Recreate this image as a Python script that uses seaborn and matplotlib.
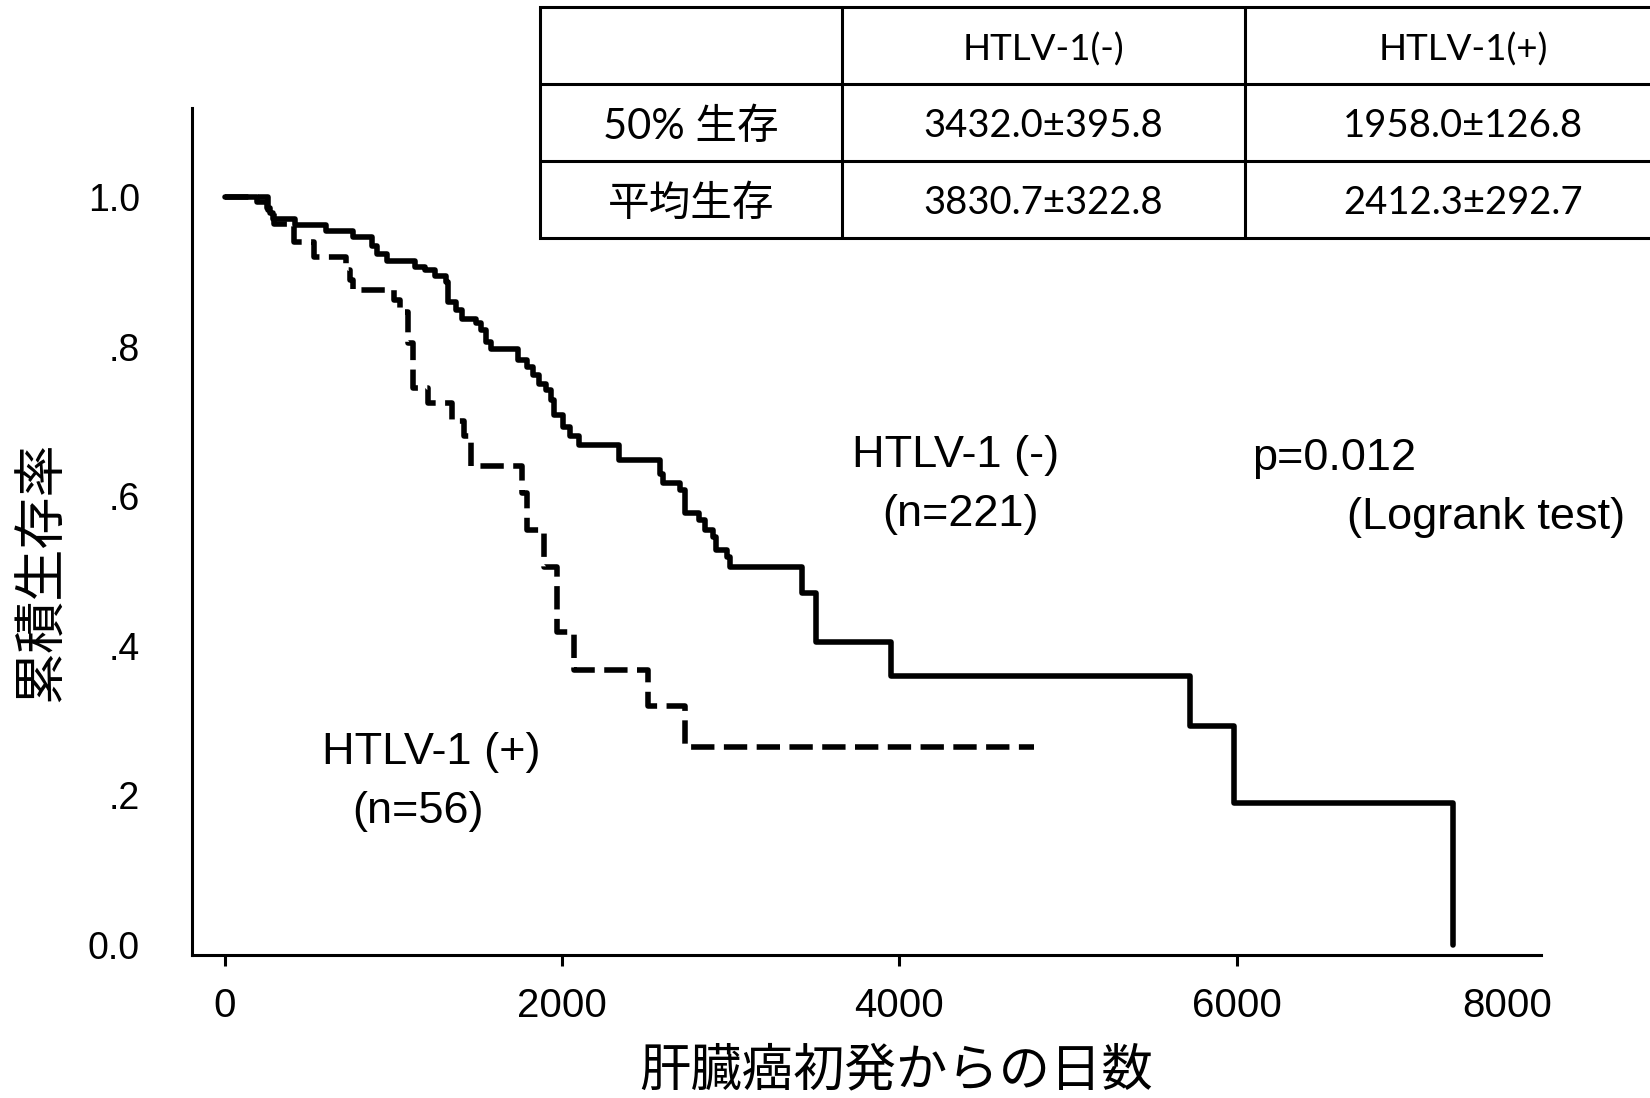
import numpy as np
import pandas as pd
import matplotlib
matplotlib.use("Agg")
import matplotlib.pyplot as plt
from matplotlib.patches import Rectangle
import seaborn as sns

# ---------------- data ----------------
# HTLV-1(-) group, n=221: Kaplan-Meier step points
neg_days = [0, 190, 250, 269, 289, 420, 600, 760, 875, 905, 960, 1130, 1190, 1250,
            1310, 1325, 1370, 1410, 1490, 1520, 1550, 1580, 1740, 1790, 1830, 1865,
            1905, 1935, 1955, 2005, 2045, 2100, 2340, 2580, 2600, 2700, 2730, 2810,
            2850, 2895, 2915, 2975, 2995, 3420, 3505, 3950, 5720, 5985, 7280]
neg_surv = [1.0, 0.993, 0.985, 0.978, 0.970, 0.963, 0.954, 0.946, 0.935, 0.924, 0.914,
            0.907, 0.902, 0.895, 0.887, 0.860, 0.849, 0.837, 0.831, 0.822, 0.806, 0.797,
            0.782, 0.773, 0.762, 0.750, 0.742, 0.728, 0.708, 0.693, 0.680, 0.668, 0.648,
            0.630, 0.617, 0.608, 0.577, 0.568, 0.555, 0.546, 0.528, 0.519, 0.506, 0.470,
            0.405, 0.359, 0.293, 0.190, 0.0]

# HTLV-1(+) group, n=56
pos_days = [0, 260, 290, 410, 530, 720, 745, 760, 1005, 1040, 1090, 1118, 1205, 1350,
            1420, 1460, 1760, 1790, 1895, 1973, 2070, 2508, 2727, 4798]
pos_surv = [1.0, 0.982, 0.964, 0.940, 0.920, 0.902, 0.889, 0.876, 0.862, 0.846, 0.805,
            0.745, 0.724, 0.700, 0.680, 0.640, 0.604, 0.555, 0.506, 0.419, 0.368, 0.319,
            0.265, 0.265]

x_ticks = [0, 2000, 4000, 6000]
x_tick_labels = ["0", "2000", "4000", "6000"]
x_extra_label = "8000"
y_ticks = [0.0, 0.2, 0.4, 0.6, 0.8, 1.0]
y_tick_labels = ["0.0", ".2", ".4", ".6", ".8", "1.0"]

table_cols = ["", "HTLV-1(-)", "HTLV-1(+)"]
table_rows = ["50% 生存", "平均生存"]
table_neg = ["3432.0±395.8", "3830.7±322.8"]
table_pos = ["1958.0±126.8", "2412.3±292.7"]

# ---------------- style ----------------
sns.set_theme(style="white")
plt.rcParams["font.family"] = ["Liberation Sans", "Noto Sans CJK JP", "DejaVu Sans"]

W, H = 1650, 1098
fig = plt.figure(figsize=(W / 100, H / 100), dpi=100)
fig.patch.set_facecolor("white")
ax = fig.add_axes([191.5 / W, 143 / H, 1349.5 / W, 847 / H])
ax.set_facecolor("white")

df_neg = pd.DataFrame({"days": neg_days, "surv": neg_surv})
df_pos = pd.DataFrame({"days": pos_days, "surv": pos_surv})

sns.lineplot(data=df_neg, x="days", y="surv", ax=ax, color="black", linewidth=4,
             drawstyle="steps-post", estimator=None, sort=False, legend=False)
sns.lineplot(data=df_pos, x="days", y="surv", ax=ax, color="black", linewidth=4,
             drawstyle="steps-post", estimator=None, sort=False, legend=False,
             linestyle=(0, (4.2, 1.7)))

ax.set_xlim(-196, 7802)
ax.set_ylim(-0.0134, 1.119)

for s in ["top", "right"]:
    ax.spines[s].set_visible(False)
for s in ["left", "bottom"]:
    ax.spines[s].set_color("black")
    ax.spines[s].set_linewidth(2.2)

narrow = ["Liberation Sans Narrow", "Liberation Sans"]
ax.set_xticks(x_ticks)
ax.set_xticklabels(x_tick_labels)
ax.set_xticks([7600], labels=[x_extra_label], minor=True)
ax.tick_params(axis="x", which="major", direction="out", bottom=True, length=8,
               width=2.2, color="black", pad=15, labelsize=29, labelcolor="black")
ax.tick_params(axis="x", which="minor", bottom=True, length=0, pad=23,
               labelsize=29, labelcolor="black")
for lbl in ax.get_xticklabels(which="both"):
    lbl.set_family(narrow)

ax.set_yticks(y_ticks)
ax.set_yticklabels(y_tick_labels)
ax.tick_params(axis="y", left=False, length=0, pad=37, labelsize=27, labelcolor="black")
for lbl in ax.get_yticklabels():
    lbl.set_family(["Liberation Sans"])

ax.set_xlabel("肝臓癌初発からの日数", fontsize=37, family=["Noto Sans CJK JP"], color="black")
ax.xaxis.set_label_coords(0.522, -0.105)
ax.set_ylabel("累積生存率", fontsize=37.5, family=["Noto Sans CJK JP"], color="black")
ax.yaxis.set_label_coords(-0.091, 0.452)

afam = ["Liberation Sans"]
fs_ann = 32.5
ax.text(3718, 0.655, "HTLV-1 (-)", fontsize=fs_ann, family=afam, ha="left", va="center", color="black")
ax.text(3896, 0.576, "(n=221)", fontsize=fs_ann, family=afam, ha="left", va="center", color="black")
ax.text(6089, 0.650, "p=0.012", fontsize=fs_ann, family=afam, ha="left", va="center", color="black")
ax.text(6652, 0.571, "(Logrank test)", fontsize=fs_ann, family=afam, ha="left", va="center",
        color="black", clip_on=False)
ax.text(579, 0.257, "HTLV-1 (+)", fontsize=fs_ann, family=afam, ha="left", va="center", color="black")
ax.text(757, 0.179, "(n=56)", fontsize=fs_ann, family=afam, ha="left", va="center", color="black")

# ---------------- summary table ----------------
t_left, t_right, t_top, t_bot = 540, 1681, 7.4, 238
tax = fig.add_axes([t_left / W, (H - t_bot) / H, (t_right - t_left) / W, (t_bot - t_top) / H])
tax.set_xlim(0, 1)
tax.set_ylim(0, 1)
tax.axis("off")
tax.add_patch(Rectangle((0, 0), 1, 1, facecolor="white", edgecolor="black", linewidth=2.2,
                        transform=tax.transAxes, clip_on=False))
col_lines = [(842 - t_left) / (t_right - t_left), (1245 - t_left) / (t_right - t_left)]
for c in col_lines:
    tax.plot([c, c], [0, 1], color="black", linewidth=2.2, clip_on=False)
for r in [1 / 3, 2 / 3]:
    tax.plot([0, 1], [r, r], color="black", linewidth=2.2, clip_on=False)

col_centers = [(691 - t_left) / (t_right - t_left), (1043.5 - t_left) / (t_right - t_left),
               (1463 - t_left) / (t_right - t_left)]
row_centers = [5 / 6 - 0.016, 1 / 2 - 0.016, 1 / 6 - 0.016]
tfam = ["Lato", "Noto Sans CJK JP"]
for j, txt in enumerate(table_cols):
    if txt:
        tax.text(col_centers[j], row_centers[0], txt, ha="center", va="center",
                 fontsize=26.5, family=tfam, color="black")
for i in range(len(table_rows)):
    tax.text(col_centers[0], row_centers[i + 1], table_rows[i], ha="center", va="center",
             fontsize=30, family=tfam, color="black")
    tax.text(col_centers[1], row_centers[i + 1], table_neg[i], ha="center", va="center",
             fontsize=27.5, family=tfam, color="black")
    tax.text(col_centers[2], row_centers[i + 1], table_pos[i], ha="center", va="center",
             fontsize=27.5, family=tfam, color="black")

fig.savefig("out.png", dpi=100, facecolor="white")
